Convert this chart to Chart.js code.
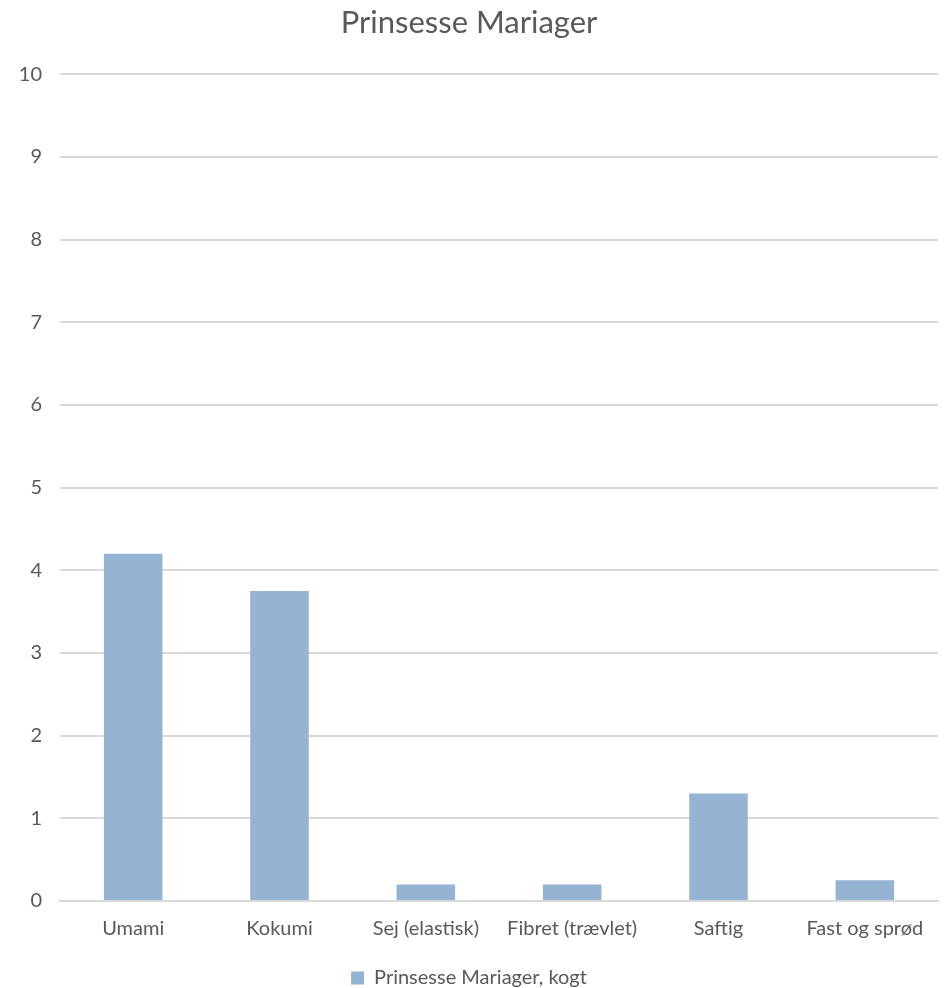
<!DOCTYPE html>
<html>
<head>
<meta charset="utf-8">
<script src="https://cdn.jsdelivr.net/npm/chart.js@4/dist/chart.umd.min.js"></script>
<style>
  html, body { margin: 0; padding: 0; background: #fff; }
  #wrap { width: 944px; height: 988px; }
</style>
</head>
<body>
<div id="wrap"><canvas id="myChart" width="944" height="988"></canvas></div>
<script>
    const categories = ['Umami', 'Kokumi', 'Sej (elastisk)', 'Fibret (trævlet)', 'Saftig', 'Fast og sprød'];
    const kogtValues = [4.2, 3.75, 0.2, 0.2, 1.3, 0.25];
    const seriesLabel = 'Prinsesse Mariager, kogt';
    const chartTitle = 'Prinsesse Mariager';
    const yTicks = [0, 1, 2, 3, 4, 5, 6, 7, 8, 9, 10];

    const textColor = '#595959';
    const fontFamily = 'Lato, "Open Sans", sans-serif';

    const ctx = document.getElementById('myChart').getContext('2d');
    const chart = new Chart(ctx, {
        type: 'bar',
        data: {
            labels: categories,
            datasets: [{
                label: seriesLabel,
                data: kogtValues,
                backgroundColor: '#95b3d2',
                borderWidth: 0,
                categoryPercentage: 1,
                barPercentage: 0.4
            }]
        },
        options: {
            responsive: false,
            animation: false,
            layout: { padding: { top: 0, right: 6, bottom: -10, left: 0 } },
            plugins: {
                title: {
                    display: true,
                    text: chartTitle,
                    color: textColor,
                    font: { family: fontFamily, size: 31, weight: 'normal' },
                    padding: { top: 4, bottom: 33 }
                },
                legend: {
                    position: 'bottom',
                    labels: {
                        color: textColor,
                        font: { family: fontFamily, size: 20 },
                        boxWidth: 13,
                        boxHeight: 13,
                        padding: 0
                    }
                },
                tooltip: { enabled: false }
            },
            scales: {
                x: {
                    grid: { display: false },
                    border: { color: '#d9d9d9', width: 2 },
                    ticks: {
                        color: textColor,
                        font: { family: fontFamily, size: 20 },
                        maxRotation: 0,
                        autoSkip: false,
                        padding: 8
                    },
                    afterFit: function (axis) { axis.height = 67; }
                },
                y: {
                    min: 0,
                    max: 10,
                    afterBuildTicks: function (axis) {
                        axis.ticks = yTicks.map(v => ({ value: v }));
                    },
                    grid: { color: '#d9d9d9', lineWidth: 2, drawTicks: false },
                    border: { display: false },
                    ticks: {
                        color: textColor,
                        font: { family: fontFamily, size: 20 },
                        padding: 18
                    },
                    afterFit: function (axis) { axis.width = 60; }
                }
            }
        }
    });
</script>
</body>
</html>
